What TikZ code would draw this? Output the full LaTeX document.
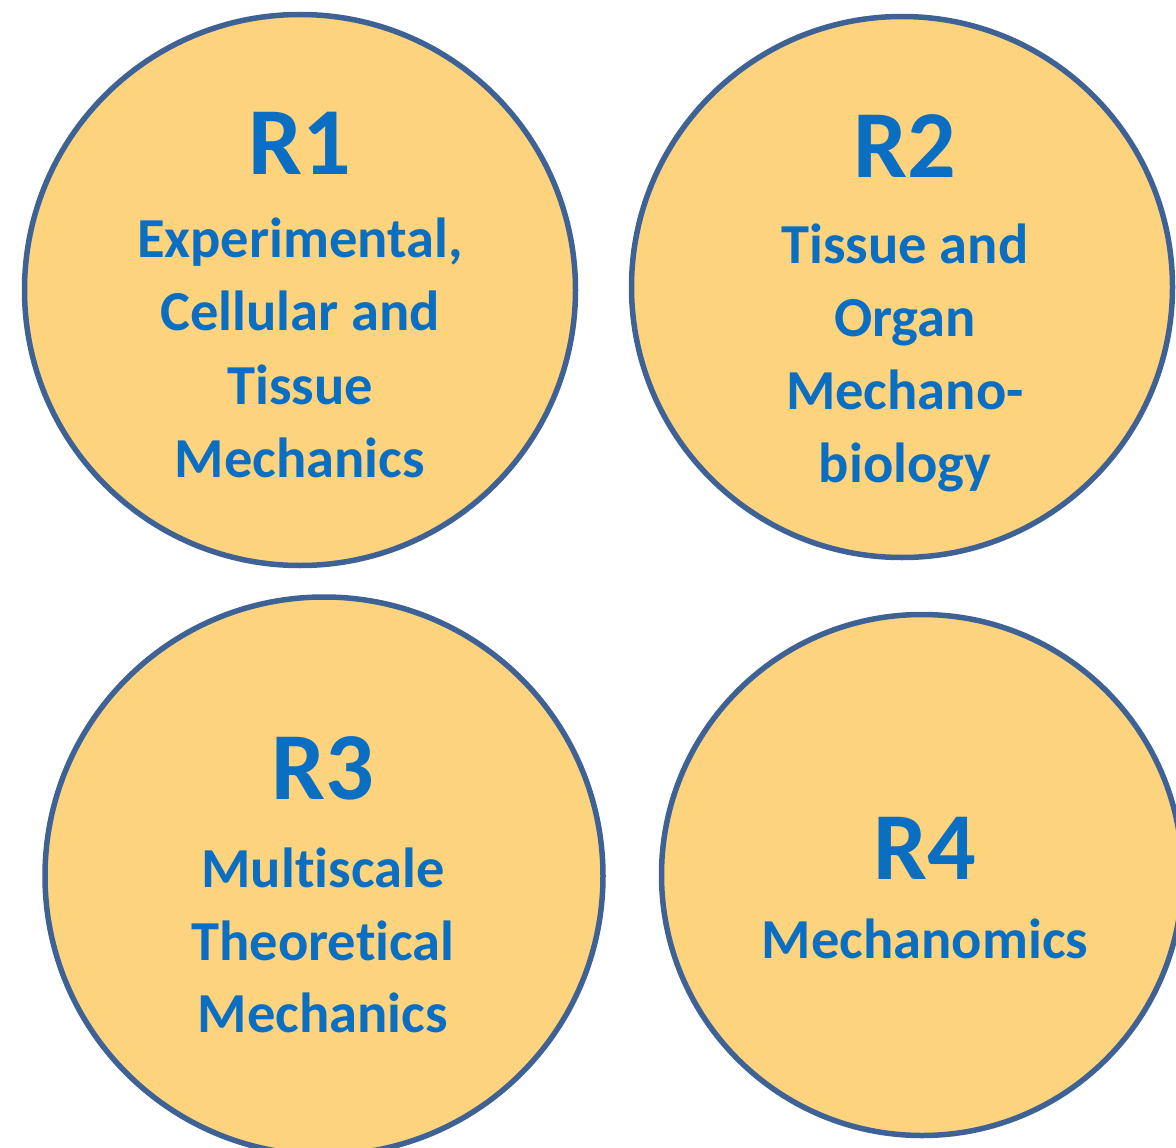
\documentclass[tikz,border=0pt]{standalone}
\usepackage{fontspec}
\setmainfont{Carlito}[Ligatures={NoCommon,NoContextual}]
\definecolor{txtblue}{HTML}{0A6FC2}
\definecolor{circfill}{HTML}{FDD47D}
\definecolor{circline}{HTML}{3E6296}
\begin{document}
\begin{tikzpicture}[x=1pt,y=-1pt,
  blob/.style={circle,draw=circline,line width=5.5pt,fill=circfill,inner sep=0pt},
  ttl/.style={anchor=base,text=txtblue,font=\fontsize{96}{100}\selectfont\bfseries,inner sep=0pt},
  body/.style={anchor=base,text=txtblue,font=\fontsize{56.5}{70}\selectfont\bfseries,inner sep=0pt}]
\useasboundingbox (0,0) rectangle (1176,1148);
\node[blob,minimum size=551pt] (c1) at (300,290) {};
\node[blob,minimum size=541pt] (c2) at (902,287) {};
\node[blob,minimum size=558pt] (c3) at (324,876) {};
\node[blob,minimum size=521pt] (c4) at (922,875) {};
% R1
\node[ttl] (t1) at (300,174) {R1};
\node[body] (a1) at (300,257) {Experimental,};
\node[body] (a2) at (300,330) {Cellular and};
\node[body] (a3) at (300,404) {Tissue};
\node[body] (a4) at (300,477) {Mechanics};
% R2
\node[ttl] (t2) at (905,177) {R2};
\node[body] (b1) at (905,263) {Tissue and};
\node[body] (b2) at (905,336) {Organ};
\node[body] (b3) at (905,409) {Mechano-};
\node[body] (b4) at (905,482) {biology};
% R3
\node[ttl] (t3) at (323,799) {R3};
\node[body] (d1) at (323,887) {Multiscale};
\node[body] (d2) at (323,960) {Theoretical};
\node[body] (d3) at (323,1032) {Mechanics};
% R4
\node[ttl] (t4) at (925,879) {R4};
\node[body] (e1) at (925,958) {Mechanomics};
\end{tikzpicture}
\end{document}
